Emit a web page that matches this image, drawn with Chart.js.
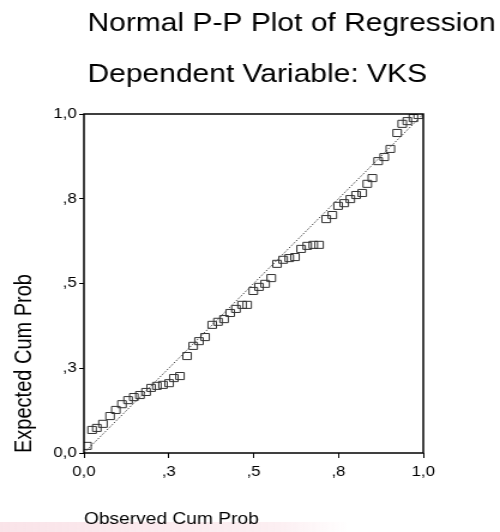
<!DOCTYPE html>
<html>
<head>
<meta charset="utf-8">
<script src="https://cdn.jsdelivr.net/npm/chart.js@4/dist/chart.umd.min.js"></script>
<style>
  html, body { margin: 0; padding: 0; background: #fff; }
  /* the scanned original is stretched sideways, so draw narrow and widen with css */
  #ppPlot { display: block; width: 500px !important; height: 532px !important; }
</style>
</head>
<body>
<canvas id="ppPlot" width="417" height="532"></canvas>
<script>
const titleText = "Normal P-P Plot of Regression";
const subtitleText = "Dependent Variable: VKS";
const xAxisTitle = "Observed Cum Prob";
const yAxisTitle = "Expected Cum Prob";
const tickLabels = ["0,0", ",3", ",5", ",8", "1,0"];

const observedCumProb = [
  0.009, 0.024, 0.038, 0.056, 0.077, 0.094, 0.112, 0.130, 0.147, 0.165,
  0.183, 0.198, 0.215, 0.233, 0.251, 0.265, 0.283, 0.304, 0.322, 0.339,
  0.357, 0.378, 0.395, 0.413, 0.431, 0.448, 0.466, 0.481, 0.499, 0.516,
  0.534, 0.552, 0.569, 0.587, 0.605, 0.622, 0.640, 0.658, 0.676, 0.693,
  0.714, 0.732, 0.749, 0.767, 0.785, 0.802, 0.820, 0.835, 0.850, 0.867,
  0.885, 0.903, 0.923, 0.938, 0.953, 0.971, 0.985
];
const expectedCumProb = [
  0.021, 0.068, 0.074, 0.086, 0.109, 0.127, 0.144, 0.156, 0.165, 0.171,
  0.180, 0.192, 0.198, 0.201, 0.206, 0.221, 0.227, 0.286, 0.316, 0.330,
  0.342, 0.378, 0.387, 0.395, 0.413, 0.425, 0.437, 0.437, 0.478, 0.490,
  0.499, 0.516, 0.558, 0.570, 0.575, 0.578, 0.602, 0.611, 0.614, 0.614,
  0.690, 0.702, 0.729, 0.737, 0.749, 0.761, 0.767, 0.794, 0.811, 0.861,
  0.873, 0.897, 0.944, 0.971, 0.979, 0.988, 0.997
];
const diagonalX = [0, 1];
const diagonalY = [0, 1];

const fontFamily = "'Liberation Sans', Arial, sans-serif";

// both heading lines sit flush left near the plot edge, wider than the plot
const headingsPlugin = {
  id: 'headings',
  afterDraw(chart) {
    const { ctx } = chart;
    ctx.save();
    ctx.fillStyle = '#000';
    ctx.font = `25px ${fontFamily}`;
    ctx.textAlign = 'left';
    ctx.textBaseline = 'middle';
    ctx.fillText(titleText, 73, 24);
    ctx.fillText(subtitleText, 73, 75);
    ctx.restore();
  }
};

const framePlugin = {
  id: 'frame',
  afterDraw(chart) {
    const { ctx, chartArea: a } = chart;
    ctx.save();
    ctx.strokeStyle = '#000';
    ctx.lineWidth = 1.5;
    ctx.strokeRect(a.left, a.top, a.right - a.left, a.bottom - a.top);
    ctx.restore();
  }
};

// faint pink band at the foot of the scanned page
const scanTintPlugin = {
  id: 'scanTint',
  beforeDraw(chart) {
    const { ctx, width, height } = chart;
    const g = ctx.createLinearGradient(0, 0, width * 0.7, 0);
    g.addColorStop(0, 'rgba(240,175,190,0.35)');
    g.addColorStop(0.8, 'rgba(240,175,190,0.2)');
    g.addColorStop(1, 'rgba(240,175,190,0)');
    ctx.save();
    ctx.fillStyle = g;
    ctx.fillRect(0, height - 10, width * 0.7, 10);
    ctx.restore();
  }
};

const ctx = document.getElementById('ppPlot');
new Chart(ctx, {
  type: 'scatter',
  data: {
    datasets: [
      {
        type: 'line',
        data: diagonalX.map((x, i) => ({ x: x, y: diagonalY[i] })),
        borderColor: '#444',
        borderWidth: 1,
        borderDash: [1.5, 1.5],
        pointRadius: 0,
        fill: false
      },
      {
        data: observedCumProb.map((x, i) => ({ x: x, y: expectedCumProb[i] })),
        pointStyle: 'rect',
        pointRadius: 5,
        borderWidth: 1,
        borderColor: '#333',
        backgroundColor: 'rgba(0,0,0,0)'
      }
    ]
  },
  options: {
    responsive: false,
    devicePixelRatio: 1,
    animation: false,
    layout: { padding: { top: 114, right: 64, bottom: 0, left: 0 } },
    plugins: {
      legend: { display: false },
      tooltip: { enabled: false },
      title: { display: false }
    },
    scales: {
      x: {
        type: 'linear',
        min: 0,
        max: 1,
        afterFit: scale => { scale.height = 79; },
        border: { display: false },
        grid: { drawOnChartArea: false, drawTicks: true, tickLength: 5, color: '#000' },
        ticks: {
          stepSize: 0.25,
          padding: 6,
          color: '#000',
          font: { size: 14, family: fontFamily },
          callback: (value, index) => tickLabels[index]
        },
        title: {
          display: true,
          text: xAxisTitle,
          align: 'start',
          color: '#000',
          font: { size: 16, family: fontFamily },
          padding: { top: 0, bottom: 3 }
        }
      },
      y: {
        type: 'linear',
        min: 0,
        max: 1,
        afterFit: scale => { scale.width = 70; },
        border: { display: false },
        grid: { drawOnChartArea: false, drawTicks: true, tickLength: 4, color: '#000' },
        ticks: {
          stepSize: 0.25,
          padding: 2,
          color: '#000',
          font: { size: 14, family: fontFamily },
          callback: (value, index) => tickLabels[index]
        },
        title: {
          display: true,
          text: yAxisTitle,
          align: 'start',
          color: '#000',
          font: { size: 20, family: fontFamily },
          padding: { top: 8, bottom: 0 }
        }
      }
    }
  },
  plugins: [scanTintPlugin, headingsPlugin, framePlugin]
});
</script>
</body>
</html>
